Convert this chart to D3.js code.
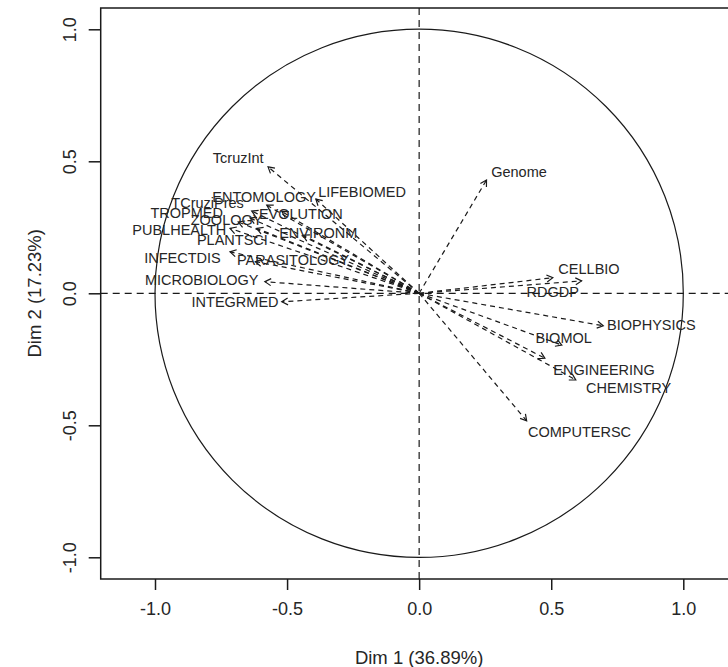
<!DOCTYPE html>
<html>
<head>
<meta charset="utf-8">
<script src="https://cdn.jsdelivr.net/npm/d3@7"></script>
<style>
  html, body { margin: 0; padding: 0; background: #fff; }
  svg { display: block; }
  text { font-family: "Liberation Sans", Arial, Helvetica, sans-serif; fill: #262626; }
</style>
</head>
<body>
<svg id="chart" width="728" height="667"></svg>
<script>
// ---- data ----
const variables = ["TcruzInt","LIFEBIOMED","ENTOMOLOGY","TCruziPres","TROPMED","ZOOLOGY","EVOLUTION",
  "PUBLHEALTH","PLANTSCI","ENVIRONM","INFECTDIS","PARASITOLOGY","MICROBIOLOGY","INTEGRMED",
  "Genome","CELLBIO","RDGDP","BIOPHYSICS","BIOMOL","ENGINEERING","CHEMISTRY","COMPUTERSC"];
const dim1 = [-0.572,-0.391,-0.577,-0.634,-0.685,-0.640,-0.520,
  -0.716,-0.615,-0.440,-0.716,-0.620,-0.584,-0.520,
  0.255,0.506,0.615,0.697,0.540,0.476,0.593,0.407];
const dim2 = [0.479,0.357,0.334,0.312,0.270,0.285,0.310,
  0.246,0.246,0.220,0.157,0.120,0.044,-0.032,
  0.429,0.059,0.047,-0.123,-0.196,-0.246,-0.328,-0.483];
// label anchor coordinates (in Dim1/Dim2 units, as placed by the original plot)
const labDim1 = [-0.685,-0.216,-0.587,-0.801,-0.880,-0.729,-0.448,
  -0.908,-0.707,-0.382,-0.896,-0.477,-0.823,-0.697,
  0.378,0.643,0.506,0.879,0.547,0.700,0.793,0.607];
const labDim2 = [0.511,0.385,0.366,0.343,0.303,0.278,0.300,
  0.240,0.202,0.230,0.133,0.126,0.050,-0.032,
  0.461,0.092,0.004,-0.120,-0.170,-0.291,-0.360,-0.524];
const tickValues = [-1.0,-0.5,0.0,0.5,1.0];
const xTitle = "Dim 1 (36.89%)";
const yTitle = "Dim 2 (17.23%)";

// ---- layout ----
const svg = d3.select("#chart");
const x = d3.scaleLinear().domain([-1, 1]).range([155, 683.3]);
const y = d3.scaleLinear().domain([-1, 1]).range([557.3, 29.3]);
const frame = { left: 100.7, top: 8, right: 760, bottom: 579 };

// frame
svg.append("rect")
  .attr("x", frame.left).attr("y", frame.top)
  .attr("width", frame.right - frame.left).attr("height", frame.bottom - frame.top)
  .attr("fill", "none").attr("stroke", "#1a1a1a").attr("stroke-width", 1.5);

// axes
const fmt = d => d.toFixed(1);
const xAxis = svg.append("g").attr("transform", `translate(0,${frame.bottom})`)
  .call(d3.axisBottom(x).tickValues(tickValues).tickFormat(fmt).tickSize(11).tickPadding(12));
const yAxis = svg.append("g").attr("transform", `translate(${frame.left},0)`)
  .call(d3.axisLeft(y).tickValues(tickValues).tickFormat(fmt).tickSize(12).tickPadding(0));
[xAxis, yAxis].forEach(a => {
  a.select(".domain").remove();
  a.selectAll(".tick line").attr("stroke", "#1a1a1a").attr("stroke-width", 1.5);
  a.selectAll("text").style("font-size", "18px").attr("fill", "#333");
});
xAxis.selectAll("text").attr("dy", "0.71em");
yAxis.selectAll(".tick text")
  .attr("x", 0).attr("dy", 0)
  .attr("text-anchor", "middle")
  .attr("transform", "translate(-31,0) rotate(-90)")
  .attr("dominant-baseline", "central");

// axis titles
svg.append("text").attr("x", x(0)).attr("y", 657)
  .attr("text-anchor", "middle").attr("dominant-baseline", "central")
  .style("font-size", "18.5px").attr("fill", "#333").text(xTitle);
svg.append("text").attr("transform", `translate(34,${y(0)}) rotate(-90)`)
  .attr("text-anchor", "middle").attr("dominant-baseline", "central")
  .style("font-size", "18.5px").attr("fill", "#333").text(yTitle);

// reference lines
svg.append("line").attr("x1", frame.left).attr("x2", 728).attr("y1", y(0)).attr("y2", y(0))
  .attr("stroke", "#1a1a1a").attr("stroke-width", 1.2).attr("stroke-dasharray", "7,5");
svg.append("line").attr("x1", x(0)).attr("x2", x(0)).attr("y1", frame.top).attr("y2", frame.bottom)
  .attr("stroke", "#1a1a1a").attr("stroke-width", 1.2).attr("stroke-dasharray", "7,5");

// correlation circle
svg.append("circle").attr("cx", x(0)).attr("cy", y(0)).attr("r", x(1) - x(0))
  .attr("fill", "none").attr("stroke", "#1a1a1a").attr("stroke-width", 1.2);

// arrows
const data = variables.map((v, i) => ({ name: v, d1: dim1[i], d2: dim2[i], l1: labDim1[i], l2: labDim2[i] }));
const g = svg.append("g");
g.selectAll("line.arrow").data(data).join("line")
  .attr("class", "arrow")
  .attr("x1", x(0)).attr("y1", y(0))
  .attr("x2", d => x(d.d1)).attr("y2", d => y(d.d2))
  .attr("stroke", "#1a1a1a").attr("stroke-width", 1.2).attr("stroke-dasharray", "5,4");
const headLen = 7, headAng = Math.PI / 6;
g.selectAll("path.head").data(data).join("path")
  .attr("class", "head")
  .attr("d", d => {
    const tx = x(d.d1), ty = y(d.d2);
    const a = Math.atan2(ty - y(0), tx - x(0));
    const p1 = [tx - headLen * Math.cos(a - headAng), ty - headLen * Math.sin(a - headAng)];
    const p2 = [tx - headLen * Math.cos(a + headAng), ty - headLen * Math.sin(a + headAng)];
    return `M${p1[0]},${p1[1]}L${tx},${ty}L${p2[0]},${p2[1]}`;
  })
  .attr("fill", "none").attr("stroke", "#1a1a1a").attr("stroke-width", 1.2);

// labels
g.selectAll("text.lab").data(data).join("text")
  .attr("class", "lab")
  .attr("x", d => x(d.l1)).attr("y", d => y(d.l2))
  .attr("text-anchor", "middle").attr("dominant-baseline", "central")
  .style("font-size", "14.5px").attr("fill", "#333")
  .text(d => d.name);
</script>
</body>
</html>
